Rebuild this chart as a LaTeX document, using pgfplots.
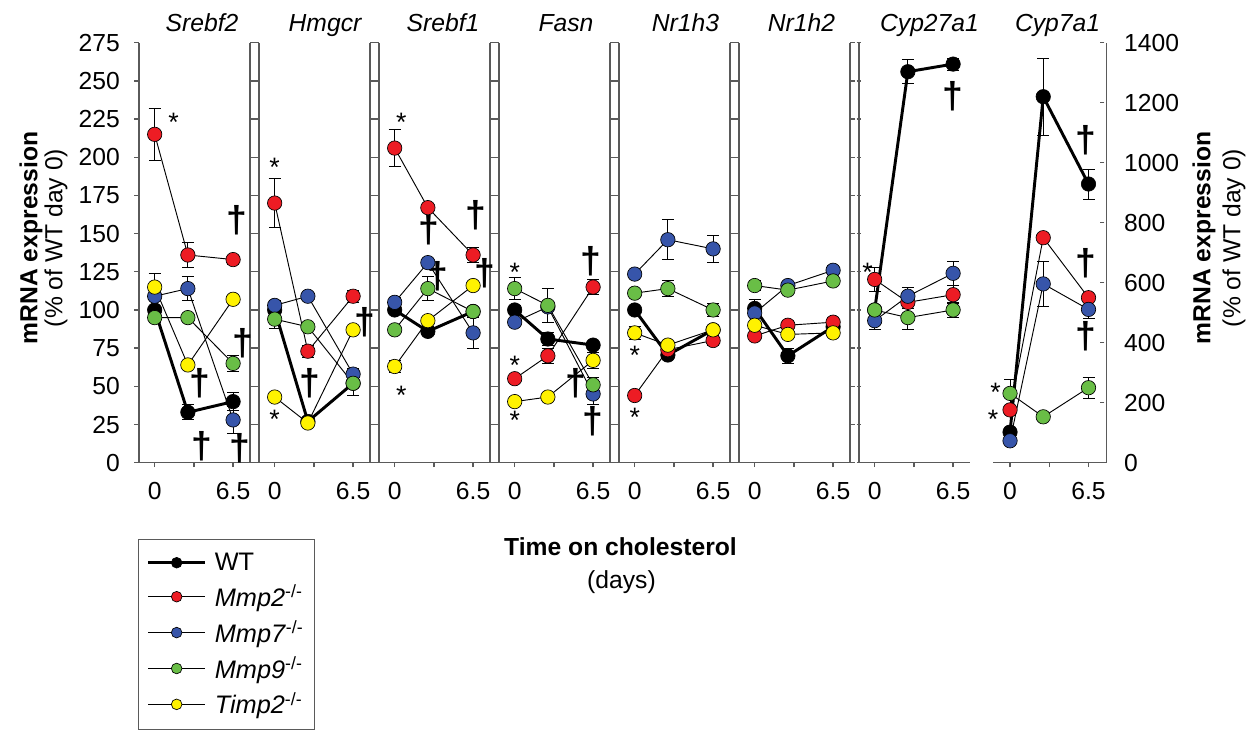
\documentclass[border=0pt]{standalone}
\usepackage{fontspec}
\setmainfont{Liberation Sans}
\usepackage{pgfplots}
\pgfplotsset{compat=1.18}

\definecolor{cred}{RGB}{237,28,36}
\definecolor{cblue}{RGB}{55,85,170}
\definecolor{cgreen}{RGB}{105,190,70}
\definecolor{cyellow}{RGB}{255,242,0}
\definecolor{axgray}{RGB}{90,90,90}

\newcommand\fs{\fontsize{18.5}{22}\selectfont}

\pgfplotsset{
  panel/.style={
    scale only axis, width=83.25pt, height=315pt,
    xmin=-1.3, xmax=7.9, ymin=0, ymax=275,
    axis x line=bottom, axis y line=box,
    tick align=outside, major tick length=3.4pt,
    xtick={0,3.25,6.5}, xticklabels={0,,6.5},
    ytick={0,25,...,275}, yticklabels={},
    ytick pos=both, xtick pos=left,
    clip=false,
    ticklabel style={font=\fs},
    xticklabel style={yshift=-8pt},
    /pgf/number format/assume math mode=true,
  },
  plain lines/.style={
    axis line style={-, axgray, line width=1pt},
    every tick/.style={axgray, line width=1pt},
  },
  errs/.style={
    error bars/y dir=both, error bars/y explicit,
    error bars/error bar style={line width=0.7pt, black, solid},
    error bars/error mark options={rotate=90, mark size=4.5pt, line width=0.7pt, black},
  },
  wt/.style={black, line width=2.2pt, mark=*, mark size=5.4pt,
    mark options={solid, fill=black, draw=black, line width=0.5pt}, errs},
  mut/.style={black, line width=0.7pt, mark=*, mark size=5.4pt,
    mark options={solid, fill=#1, draw=black, line width=0.5pt}, errs},
}

\tikzset{
  dag/.style={font=\fontsize{28}{28}\selectfont\bfseries, inner sep=0pt},
  ast/.style={font=\fontsize{20}{20}\selectfont, inner sep=0pt, yshift=-4pt},
}

\begin{document}
\begin{tikzpicture}
\useasboundingbox (0,0) rectangle (942.75pt,-556.5pt);

% ---- Srebf2
\begin{axis}[panel, plain lines, at={({139*0.75pt},{-462.7*0.75pt})}, anchor=south west,
  yticklabels={0,25,50,75,100,125,150,175,200,225,250,275},
  yticklabel style={xshift=-7.5pt},
  legend style={at={(-0.009,-0.182)}, anchor=north west, draw=axgray,
    line width=0.8pt, font=\fontsize{19}{22}\selectfont, row sep=5.5pt,
    inner xsep=6pt, inner ysep=8pt,
    /tikz/every odd column/.append style={column sep=4pt}},
  legend cell align=left,
  legend image code/.code={\draw[mark repeat=2, mark phase=2, #1, mark size=4pt]
    plot coordinates {(0pt,0pt) (21.5pt,0pt) (43pt,0pt)};}]
\addplot[wt] coordinates {(0,100) +- (0,2) (2.75,33) +- (0,5) (6.5,40) +- (0,6)};
\addlegendentry{WT}
\addplot[mut=cred] coordinates {(0,215) +- (0,17) (2.75,136) +- (0,8) (6.5,133) +- (0,3)};
\addlegendentry{\textit{Mmp2}\textsuperscript{-/-}}
\addplot[mut=cblue] coordinates {(0,109) +- (0,3) (2.75,114) +- (0,8) (6.5,28) +- (0,9)};
\addlegendentry{\textit{Mmp7}\textsuperscript{-/-}}
\addplot[mut=cgreen] coordinates {(0,95) +- (0,3) (2.75,95) +- (0,0) (6.5,65) +- (0,5)};
\addlegendentry{\textit{Mmp9}\textsuperscript{-/-}}
\addplot[mut=cyellow] coordinates {(0,115) +- (0,9) (2.75,64) +- (0,0) (6.5,107) +- (0,2)};
\addlegendentry{\textit{Timp2}\textsuperscript{-/-}\hspace{4pt}}
\node[ast] at (axis cs:1.56,226.6) {*};
\node[dag] at (axis cs:6.83,159) {†};
\node[dag] at (axis cs:7.33,78) {†};
\node[dag] at (axis cs:3.76,52) {†};
\node[dag] at (axis cs:3.9,10.5) {†};
\node[dag] at (axis cs:7.1,9.4) {†};
\end{axis}

% ---- Hmgcr
\begin{axis}[panel, plain lines, at={({259*0.75pt},{-462.7*0.75pt})}, anchor=south west]
\addplot[wt] coordinates {(0,100) +- (0,0) (2.75,27) +- (0,0) (6.5,52) +- (0,0)};
\addplot[mut=cred] coordinates {(0,170) +- (0,16) (2.75,73) +- (0,4) (6.5,109) +- (0,4)};
\addplot[mut=cblue] coordinates {(0,103) +- (0,3) (2.75,109) +- (0,0) (6.5,58) +- (0,4)};
\addplot[mut=cgreen] coordinates {(0,94) +- (0,6) (2.75,89) +- (0,0) (6.5,52) +- (0,8)};
\addplot[mut=cyellow] coordinates {(0,43) +- (0,0) (2.75,26) +- (0,0) (6.5,87) +- (0,0)};
\node[ast] at (axis cs:0,197) {*};
\node[ast] at (axis cs:0,32) {*};
\node[dag] at (axis cs:7.47,92) {†};
\node[dag] at (axis cs:2.9,52) {†};
\end{axis}

% ---- Srebf1
\begin{axis}[panel, plain lines, at={({379*0.75pt},{-462.7*0.75pt})}, anchor=south west]
\addplot[wt] coordinates {(0,100) +- (0,0) (2.75,86) +- (0,3) (6.5,99) +- (0,0)};
\addplot[mut=cred] coordinates {(0,206) +- (0,12) (2.75,167) +- (0,2) (6.5,136) +- (0,5)};
\addplot[mut=cblue] coordinates {(0,105) +- (0,3) (2.75,131) +- (0,0) (6.5,85) +- (0,10)};
\addplot[mut=cgreen] coordinates {(0,87) +- (0,0) (2.75,114) +- (0,8) (6.5,99) +- (0,0)};
\addplot[mut=cyellow] coordinates {(0,63) +- (0,4) (2.75,93) +- (0,0) (6.5,116) +- (0,0)};
\node[ast] at (axis cs:0.55,226.6) {*};
\node[ast] at (axis cs:0.55,47.6) {*};
\node[dag] at (axis cs:6.74,162) {†};
\node[dag] at (axis cs:2.8,152) {†};
\node[dag] at (axis cs:3.6,122) {†};
\node[dag] at (axis cs:7.5,124) {†};
\end{axis}

% ---- Fasn
\begin{axis}[panel, plain lines, at={({499*0.75pt},{-462.7*0.75pt})}, anchor=south west]
\addplot[wt] coordinates {(0,100) +- (0,3) (2.75,81) +- (0,4) (6.5,77) +- (0,0)};
\addplot[mut=cred] coordinates {(0,55) +- (0,0) (2.75,70) +- (0,5) (6.5,115) +- (0,5)};
\addplot[mut=cblue] coordinates {(0,92) +- (0,0) (2.75,102) +- (0,0) (6.5,45) +- (0,7)};
\addplot[mut=cgreen] coordinates {(0,114) +- (0,7) (2.75,103) +- (0,11) (6.5,51) +- (0,5)};
\addplot[mut=cyellow] coordinates {(0,40) +- (0,0) (2.75,43) +- (0,0) (6.5,67) +- (0,5)};
\node[ast] at (axis cs:0,128.4) {*};
\node[ast] at (axis cs:0,67) {*};
\node[ast] at (axis cs:0,31) {*};
\node[dag] at (axis cs:6.35,132) {†};
\node[dag] at (axis cs:5.1,52) {†};
\node[dag] at (axis cs:6.5,27) {†};
\end{axis}

% ---- Nr1h3
\begin{axis}[panel, plain lines, at={({619*0.75pt},{-462.7*0.75pt})}, anchor=south west]
\addplot[wt] coordinates {(0,100) +- (0,0) (2.75,70.5) +- (0,0) (6.5,87) +- (0,0)};
\addplot[mut=cred] coordinates {(0,44) +- (0,0) (2.75,74) +- (0,0) (6.5,80) +- (0,3)};
\addplot[mut=cblue] coordinates {(0,123.5) +- (0,0) (2.75,146) +- (0,13) (6.5,140) +- (0,9)};
\addplot[mut=cgreen] coordinates {(0,111) +- (0,0) (2.75,114) +- (0,5) (6.5,100) +- (0,4)};
\addplot[mut=cyellow] coordinates {(0,85) +- (0,4) (2.75,77) +- (0,2) (6.5,87) +- (0,0)};
\node[ast] at (axis cs:0,74) {*};
\node[ast] at (axis cs:0,33.4) {*};
\end{axis}

% ---- Nr1h2
\begin{axis}[panel, plain lines, at={({739*0.75pt},{-462.7*0.75pt})}, anchor=south west]
\addplot[wt] coordinates {(0,101) +- (0,6) (2.75,70) +- (0,5) (6.5,89) +- (0,0)};
\addplot[mut=cred] coordinates {(0,83) +- (0,0) (2.75,90) +- (0,3) (6.5,92) +- (0,3)};
\addplot[mut=cblue] coordinates {(0,98) +- (0,0) (2.75,116) +- (0,2) (6.5,126) +- (0,3)};
\addplot[mut=cgreen] coordinates {(0,116) +- (0,3) (2.75,113) +- (0,0) (6.5,119) +- (0,0)};
\addplot[mut=cyellow] coordinates {(0,90) +- (0,0) (2.75,84) +- (0,0) (6.5,85) +- (0,0)};
\end{axis}

% ---- Cyp27a1
\begin{axis}[panel, axis y line=left, ytick pos=left, plain lines,
  at={({859*0.75pt},{-462.7*0.75pt})}, anchor=south west]
\addplot[wt] coordinates {(0,100) +- (0,0) (2.75,256) +- (0,8) (6.5,261) +- (0,4)};
\addplot[mut=cred] coordinates {(0,120) +- (0,8) (2.75,105) +- (0,4) (6.5,110) +- (0,6)};
\addplot[mut=cblue] coordinates {(0,93) +- (0,6) (2.75,109) +- (0,6) (6.5,124) +- (0,8)};
\addplot[mut=cgreen] coordinates {(0,100) +- (0,0) (2.75,95) +- (0,8) (6.5,100) +- (0,5)};
\node[ast] at (axis cs:-0.6,128) {*};
\node[dag] at (axis cs:6.5,240) {†};
\end{axis}

% ---- Cyp7a1 (right axis, ticks pointing inward)
\begin{axis}[panel, axis y line=right, ytick pos=right, yticklabel pos=right,
  plain lines,
  xmin=-1.41, xmax=8.01, width=85.3pt, ymin=0, ymax=1400,
  ytick={0,200,...,1400}, yticklabels={0,200,400,600,800,1000,1200,1400},
  yticklabel style={xshift=7.9pt},
  y tick style={xshift=-3.4pt},
  at={({993*0.75pt},{-462.7*0.75pt})}, anchor=south west]
\addplot[wt] coordinates {(0,102) +- (0,0) (2.75,1220) +- (0,128) (6.5,929) +- (0,50)};
\addplot[mut=cred] coordinates {(0,176) +- (0,0) (2.75,750) +- (0,0) (6.5,550) +- (0,0)};
\addplot[mut=cblue] coordinates {(0,73) +- (0,0) (2.75,596) +- (0,75) (6.5,511) +- (0,30)};
\addplot[mut=cgreen] coordinates {(0,231) +- (0,45) (2.75,153) +- (0,0) (6.5,250) +- (0,35)};
\node[ast] at (axis cs:-1.19,253) {*};
\node[ast] at (axis cs:-1.4,164) {*};
\node[dag] at (axis cs:6.3,1075) {†};
\node[dag] at (axis cs:6.3,664) {†};
\node[dag] at (axis cs:6.3,420) {†};
\end{axis}

% panel titles
\foreach \cx/\t in {202/Srebf2, 325/Hmgcr, 443/Srebf1, 566/Fasn, 685.5/Nr1h3,
                    801.5/Nr1h2, 929.5/Cyp27a1, 1057.5/Cyp7a1}
  \node[font=\fs\itshape, anchor=base] at ({\cx*0.75pt},{-32*0.75pt}) {\t};

% axis descriptions
\node[rotate=90, font=\fs\bfseries] at ({31*0.75pt},{-238*0.75pt}) {mRNA expression};
\node[rotate=90, font=\fs] at ({56*0.75pt},{-238*0.75pt}) {(\% of WT day 0)};
\node[rotate=90, font=\fs\bfseries] at ({1204*0.75pt},{-238*0.75pt}) {mRNA expression};
\node[rotate=90, font=\fs] at ({1234*0.75pt},{-238*0.75pt}) {(\% of WT day 0)};
\node[font=\fs\bfseries, anchor=base] at ({620.5*0.75pt},{-555*0.75pt}) {Time on cholesterol};
\node[font=\fs, anchor=base] at ({621.5*0.75pt},{-588*0.75pt}) {(days)};
\end{tikzpicture}
\end{document}
